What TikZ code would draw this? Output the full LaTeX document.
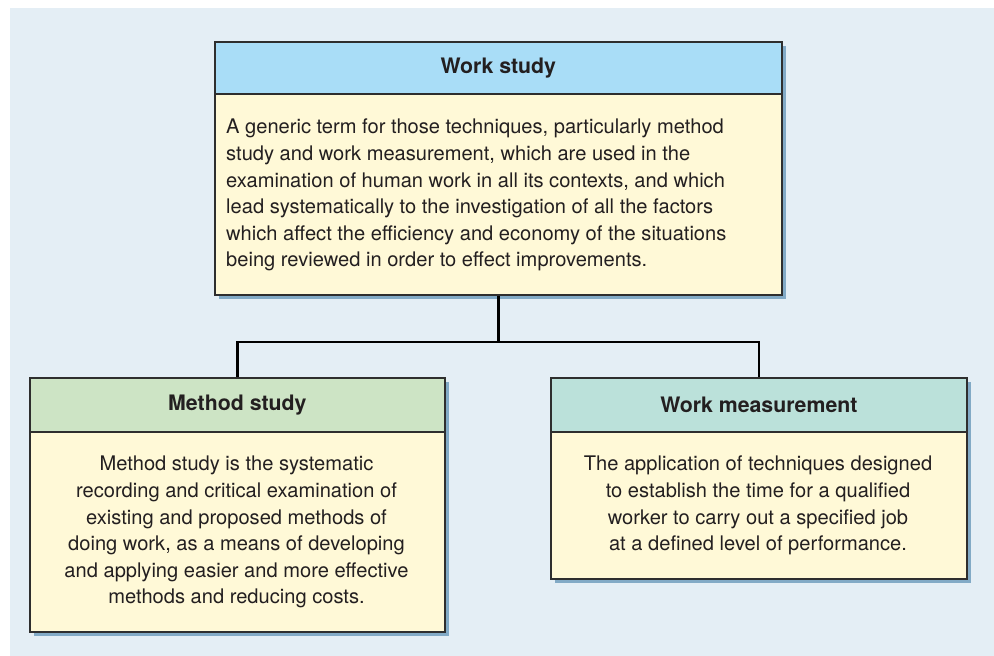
\documentclass[tikz,border=0pt]{standalone}
\usepackage{fontspec}
\setmainfont{TeX Gyre Heros}
\usetikzlibrary{shadows}
\definecolor{bgc}{HTML}{E4EEF5}
\definecolor{wshead}{HTML}{A9DDF7}
\definecolor{mshead}{HTML}{CDE4C5}
\definecolor{wmhead}{HTML}{BBE1DA}
\definecolor{bodyc}{HTML}{FFF9D7}
\definecolor{shadowc}{HTML}{82AAC6}
\definecolor{borderc}{HTML}{2E2E2E}
\definecolor{textc}{HTML}{231F20}
\tikzset{
  outerbox/.style={draw=borderc, line width=1.8pt, fill=bodyc, inner sep=0pt, anchor=north west,
    drop shadow={shadow xshift=4.5pt, shadow yshift=-4.5pt, fill=shadowc, opacity=1}},
  headbox/.style={draw=borderc, line width=1.8pt, inner sep=0pt, anchor=north west,
    font=\fontsize{21.3}{24}\selectfont\bfseries, text=textc},
  bodytext/.style={inner sep=0pt, font=\fontsize{20.1}{26.6}\selectfont, text=textc},
  link/.style={draw=black, line width=2.2pt}
}
\begin{document}
\begin{tikzpicture}[x=1pt,y=-1pt]
\useasboundingbox (0,0) rectangle (994,656);
\fill[bgc] (10,8) rectangle (994,656);
% Work study
\node[outerbox, minimum width=567pt, minimum height=253pt] (ws) at (214,41) {};
\node[headbox, fill=wshead, minimum width=567pt, minimum height=52pt] (wsh) at (214,41) {Work study};
\node[bodytext, anchor=north west, align=left] (wsb) at (226,119) {A generic term for those techniques, particularly method\\study and work measurement, which are used in the\\examination of human work in all its contexts, and which\\lead systematically to the investigation of all the factors\\which affect the efficiency and economy of the situations\\being reviewed in order to effect improvements.};
% Method study
\node[outerbox, minimum width=415pt, minimum height=254pt] (ms) at (29,377) {};
\node[headbox, fill=mshead, minimum width=415pt, minimum height=54pt] (msh) at (29,377) {Method study};
\node[bodytext, anchor=north, align=center] (msb) at (236.5,456) {Method study is the systematic\\recording and critical examination of\\existing and proposed methods of\\doing work, as a means of developing\\and applying easier and more effective\\methods and reducing costs.};
% Work measurement
\node[outerbox, minimum width=416pt, minimum height=201pt] (wm) at (550,377) {};
\node[headbox, fill=wmhead, minimum width=416pt, minimum height=54pt] (wmh) at (550,377) {Work measurement};
\node[bodytext, anchor=north, align=center] (wmb) at (758,456) {The application of techniques designed\\to establish the time for a qualified\\worker to carry out a specified job\\at a defined level of performance.};
% connectors
\draw[link] (ws.south) -- ++(0,46) coordinate (jn);
\draw[link] (jn) -| (msh.north);
\draw[link] (jn) -| (wmh.north);
\end{tikzpicture}
\end{document}
